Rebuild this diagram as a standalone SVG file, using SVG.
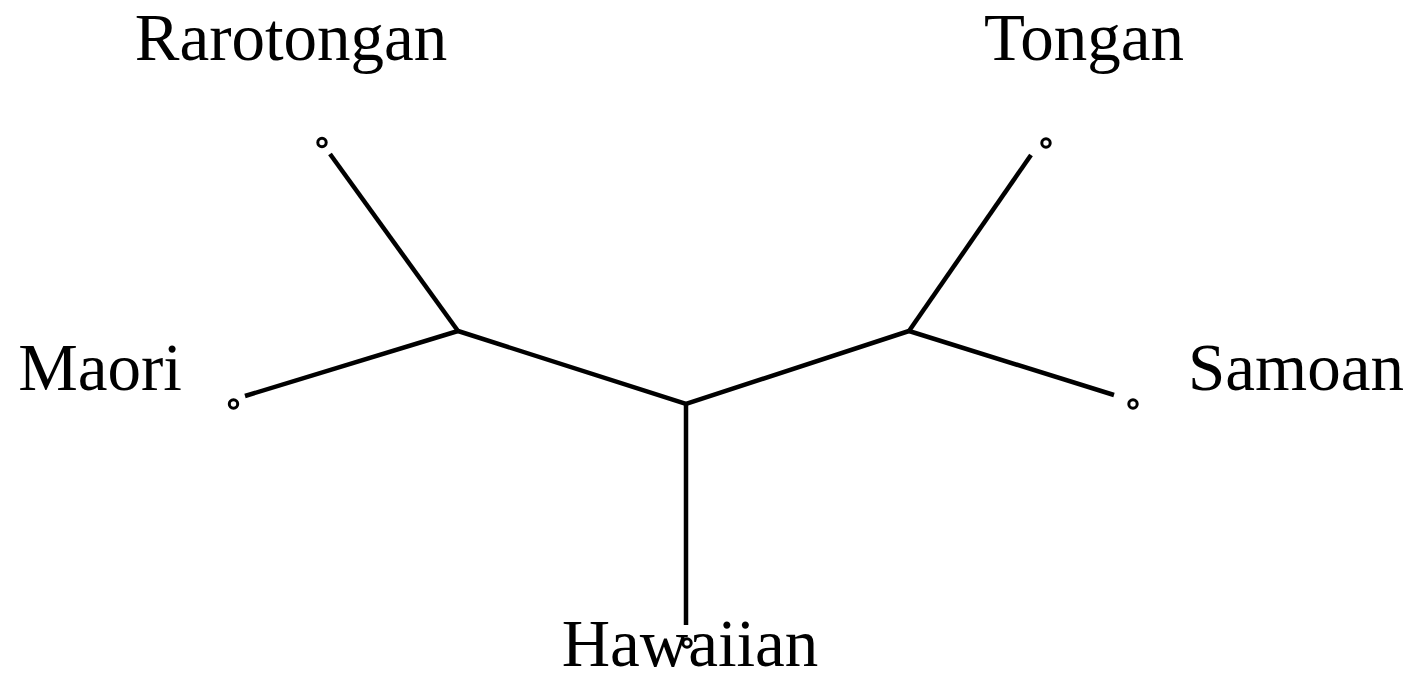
<svg xmlns="http://www.w3.org/2000/svg" width="1413" height="674" viewBox="0 0 1413 674">
  <style>
    .edge { stroke: #000; stroke-width: 4.5; fill: none; stroke-linecap: butt; }
    .tip { fill: #fff; stroke: #000; stroke-width: 3; }
    .label { font-family: "Liberation Serif", "Times New Roman", serif; font-size: 67px; fill: #000; text-anchor: middle; }
  </style>
  <rect width="1413" height="674" fill="#fff"/>
  <g id="edges">
    <polyline class="edge" points="458,331 686,404 909,331"/>
    <line class="edge" x1="458" y1="331" x2="330" y2="154"/>
    <line class="edge" x1="458" y1="331" x2="245" y2="396"/>
    <line class="edge" x1="686" y1="404" x2="686" y2="625"/>
    <line class="edge" x1="909" y1="331" x2="1031" y2="155"/>
    <line class="edge" x1="909" y1="331" x2="1114" y2="395"/>
  </g>
  <g id="rarotongan">
    <circle class="tip" cx="322" cy="142.5" r="4.2"/>
    <text class="label" x="291" y="60">Rarotongan</text>
  </g>
  <g id="tongan">
    <circle class="tip" cx="1046" cy="143" r="4.2"/>
    <text class="label" x="1084" y="60">Tongan</text>
  </g>
  <g id="maori">
    <circle class="tip" cx="233.5" cy="404" r="4.2"/>
    <text class="label" x="100" y="390">Maori</text>
  </g>
  <g id="samoan">
    <circle class="tip" cx="1133" cy="404" r="4.2"/>
    <text class="label" x="1296" y="390">Samoan</text>
  </g>
  <g id="hawaiian">
    <text class="label" x="690" y="666">Hawaiian</text>
    <circle class="tip" cx="687" cy="643" r="4.2"/>
  </g>
</svg>
